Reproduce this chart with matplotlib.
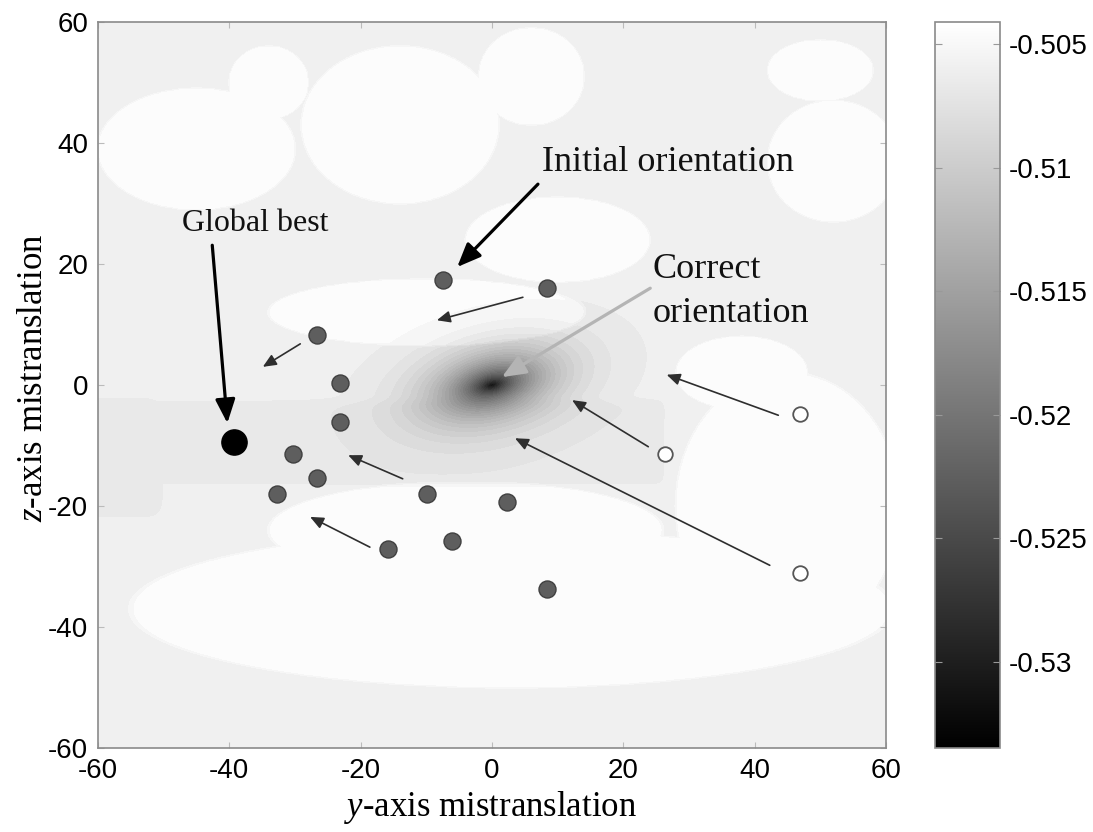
import numpy as np
import matplotlib
matplotlib.use("Agg")
import matplotlib.pyplot as plt
from matplotlib import cm, colors

plt.rcParams['axes.unicode_minus'] = False
plt.rcParams['font.family'] = ['Liberation Sans', 'DejaVu Sans']
plt.rcParams['mathtext.fontset'] = 'custom'
plt.rcParams['mathtext.it'] = 'Liberation Serif:italic'
plt.rcParams['mathtext.rm'] = 'Liberation Serif'

# colour scale of the cost surface
vmin, vmax = -0.5335, -0.5041
cbar_ticks = [-0.53, -0.525, -0.52, -0.515, -0.51, -0.505]
cbar_labels = ['-0.53', '-0.525', '-0.52', '-0.515', '-0.51', '-0.505']
axis_ticks = [-60, -40, -20, 0, 20, 40, 60]

# surface levels
base_level = -0.5060
white_level = -0.5045
band_level = -0.5068
well_depth = 0.026

# white patches: centre y, centre z, half width, half height
cloud_cy = [-45, -34, -14, 6, 52, 50, -10, 10, 3, -4, 45, 38]
cloud_cz = [39, 50, 43, 51, 37, 52, 12, 24, -37, -24, -20, 2]
cloud_rx = [15, 6, 15, 8, 10, 8, 24, 14, 58, 30, 17, 10]
cloud_rz = [10, 6, 13, 8, 10, 5, 5.5, 7, 13, 8, 22, 6]

# swarm members (filled gray), global best, and new particles (open)
gray_y = [-7.5, 8.4, -26.6, -23.1, -23.1, -30.3, -26.6, -32.7, -9.9, 2.3, -15.8, -6.1, 8.4]
gray_z = [17.4, 16.0, 8.3, 0.3, -6.1, -11.4, -15.4, -18.0, -18.0, -19.3, -27.1, -25.8, -33.7]
best_y, best_z = -39.3, -9.4
open_y = [46.9, 26.3, 46.9]
open_z = [-4.8, -11.4, -31.1]

# thin motion arrows (tail -> head)
arr_y0 = [4.7, -29.2, -13.6, -18.6, 43.6, 23.8, 42.3]
arr_z0 = [14.5, 6.8, -15.5, -26.8, -5.0, -10.2, -29.8]
arr_y1 = [-8.4, -34.9, -21.9, -27.7, 26.6, 12.2, 3.5]
arr_z1 = [10.7, 3.0, -11.6, -21.8, 1.7, -2.5, -8.8]

# build the surface on a grid
gy = np.linspace(-60, 60, 481)
gz = np.linspace(-60, 60, 481)
Y, Z = np.meshgrid(gy, gz)

W = np.zeros_like(Y)
for cy, cz, rx, rz in zip(cloud_cy, cloud_cz, cloud_rx, cloud_rz):
    d = np.sqrt(((Y - cy) / rx) ** 2 + ((Z - cz) / rz) ** 2)
    W = np.maximum(W, 1 / (1 + np.exp(np.clip((d - 1) * 150, -50, 50))))
field = base_level + (white_level - base_level) * W

# darker band through the middle
B = np.exp(-((Z + 9.5) / 7.0) ** 12) / (1 + np.exp((Y - 26) / 0.5))
B = np.maximum(B, np.exp(-((Y + 58) / 8.0) ** 8 - ((Z + 12) / 10.0) ** 8))
field = field + (band_level - field) * B

# minimum at the correct orientation
th = np.deg2rad(16)
U = Y * np.cos(th) + Z * np.sin(th)
V = -Y * np.sin(th) + Z * np.cos(th)
core = np.exp(-np.sqrt((U / 2.5) ** 2 + (V / 1.4) ** 2))
halo = np.exp(-np.sqrt((U / 9.0) ** 2 + (V / 5.0) ** 2) ** 1.4)
field = field - well_depth * (0.35 * core + 0.65 * halo)
field = np.clip(field, vmin, vmax)

fig = plt.figure(figsize=(10.93, 8.32), dpi=100)
ax = fig.add_axes([98 / 1093., 84 / 832., 788 / 1093., 726 / 832.])
cax = fig.add_axes([935 / 1093., 84 / 832., 65 / 1093., 726 / 832.])

norm = colors.Normalize(vmin=vmin, vmax=vmax)
levels = np.linspace(vmin, vmax, 41)
ax.contourf(Y, Z, field, levels=levels, cmap='gray', norm=norm)

ax.scatter(gray_y, gray_z, s=150, c='#5e5e5e', edgecolors='#404040', linewidths=1, zorder=5)
ax.scatter([best_y], [best_z], s=330, c='black', edgecolors='black', zorder=5)
ax.scatter(open_y, open_z, s=110, facecolors='white', edgecolors='#555555', linewidths=1.3, zorder=5)

for y0, z0, y1, z1 in zip(arr_y0, arr_z0, arr_y1, arr_z1):
    ax.annotate('', xy=(y1, z1), xytext=(y0, z0),
                arrowprops=dict(arrowstyle='-|>,head_length=0.5,head_width=0.22', mutation_scale=16,
                                lw=1.2, color='#2e2e2e', shrinkA=0, shrinkB=0), zorder=4)

bold = dict(arrowstyle='-|>,head_length=0.72,head_width=0.3', mutation_scale=20,
            lw=2.3, shrinkA=0, shrinkB=0)
ax.annotate('', xy=(-40.3, -6.3), xytext=(-42.6, 23.1), arrowprops=dict(color='black', **bold), zorder=6)
ax.annotate('', xy=(-5.3, 19.5), xytext=(7.0, 33.2), arrowprops=dict(color='black', **bold), zorder=6)
ax.annotate('', xy=(1.5, 1.3), xytext=(24.1, 16.0), arrowprops=dict(color='#b4b4b4', **bold), zorder=6)

serif = dict(fontfamily='Liberation Serif', color='#111111', zorder=7)
ax.text(-36.1, 25.5, 'Global best', ha='center', va='baseline', fontsize=23, **serif)
ax.text(7.6, 35.4, 'Initial orientation', ha='left', va='baseline', fontsize=26, **serif)
ax.text(24.5, 17.7, 'Correct', ha='left', va='baseline', fontsize=26, **serif)
ax.text(24.5, 10.4, 'orientation', ha='left', va='baseline', fontsize=26, **serif)

ax.set_xlim(-60, 60)
ax.set_ylim(-60, 60)
ax.set_xticks(axis_ticks)
ax.set_yticks(axis_ticks)
ax.tick_params(direction='in', length=4, color='#bbbbbb', labelsize=20, top=True, right=True, pad=7)
for s in ax.spines.values():
    s.set_color('#8a8a8a')
    s.set_linewidth(1.2)

fig.text(490 / 1093., 1 - 808 / 832., r'$y$-axis mistranslation', ha='center', va='center',
         fontfamily='Liberation Serif', fontsize=25)
fig.text(34 / 1093., 1 - 378 / 832., r'$z$-axis mistranslation', ha='center', va='center',
         rotation=90, fontfamily='Liberation Serif', fontsize=25)

cb = fig.colorbar(cm.ScalarMappable(norm=norm, cmap='gray'), cax=cax)
cb.set_ticks(cbar_ticks)
cb.set_ticklabels(cbar_labels)
cax.tick_params(direction='in', length=5, color='#999999', labelsize=20, left=True, right=True, pad=6)
cb.outline.set_edgecolor('#8a8a8a')
cb.outline.set_linewidth(1.2)

plt.savefig('out.png', dpi=100)
